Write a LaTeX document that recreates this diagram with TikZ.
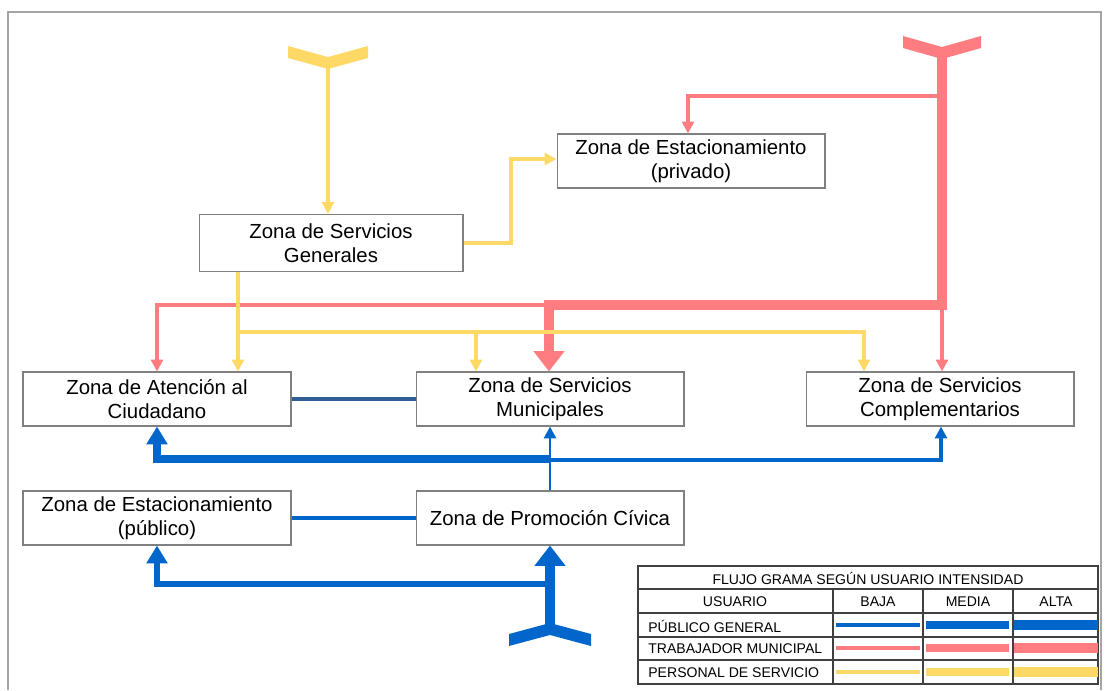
\documentclass[tikz,border=0pt]{standalone}
\usepackage{fontspec}
\setmainfont{Liberation Sans}
\usetikzlibrary{arrows.meta}
\definecolor{publico}{RGB}{0, 102, 204}
\definecolor{trabajador}{RGB}{255, 124, 128}
\definecolor{servicio}{RGB}{255, 217, 102}
\definecolor{enlace}{RGB}{47, 94, 150}
\definecolor{marco}{RGB}{165, 165, 165}

\begin{document}
\begin{tikzpicture}[x=0.02cm, y=-0.02cm,
    zona/.style={draw=gray, line width=0.6pt, fill=white, minimum width=5.36cm,
                 minimum height=1.08cm, inner sep=0pt, align=center,
                 font=\fontsize{11.6}{13.6}\selectfont},
    leyenda/.style={inner sep=0pt, font=\fontsize{8}{9}\selectfont},
    flechaS/.style={-{Triangle[length=6.8pt, width=6.8pt]}},
    flechaM/.style={-{Triangle[length=10.2pt, width=11.6pt]}},
    flechaL/.style={-{Triangle[length=11.6pt, width=17pt]}}]
    \useasboundingbox (0,0) rectangle (1106,690);
    % Frame
    \draw[marco, line width=0.9pt] (8,690) -- (8,12) -- (1101,12) -- (1101,690);

    % Zones
    \node[zona]                                        (pri) at (691,161) {Zona de Estacionamiento\\(privado)};
    \node[zona, minimum width=5.28cm, minimum height=1.14cm] (gen) at (331,243) {Zona de Servicios\\Generales};
    \node[zona]                                        (ate) at (157,399) {Zona de Atención al\\Ciudadano};
    \node[zona]                                        (mun) at (550,399) {Zona de Servicios\\Municipales};
    \node[zona]                                        (com) at (940,399) {Zona de Servicios\\Complementarios};
    \node[zona]                                        (est) at (157,518) {Zona de Estacionamiento\\(público)};
    \node[zona]                                        (pro) at (550,518) {Zona de Promoción Cívica};

    % Entrances
    \coordinate (inS) at (328,64);
    \coordinate (inT) at (942,54);
    \coordinate (inP) at (550,630);
    \fill[servicio]   (288,46) -- (328,57) -- (368,46) -- (368,58) -- (328,69) -- (288,58) -- cycle;
    \fill[trabajador] (903,36) -- (942,47) -- (981,36) -- (981,48) -- (942,59) -- (903,48) -- cycle;
    \fill[publico]    (509,634) -- (550,623) -- (591,634) -- (591,646) -- (550,635) -- (509,646) -- cycle;

    % Trabajador municipal
    \coordinate (tJ) at (549,305);
    \coordinate (tA) at (157,304);
    \coordinate (tP) at (688,96);
    \draw[trabajador, line width=1.9pt, flechaS] (tP -| inT) -- (tP) -- (tP |- pri.north);
    \draw[trabajador, line width=1.9pt, flechaS] (tJ) -- (tJ -| tA) -- (tA |- ate.north);
    \draw[trabajador, line width=1.9pt, flechaS] (inT |- tJ) -- (inT |- com.north);
    \draw[trabajador, line width=5.7pt, flechaL] (inT) -- (inT |- tJ) -- (tJ) -- (tJ |- mun.north);

    % Personal de servicio
    \coordinate (yP) at (511,159);
    \coordinate (yA) at (238,332);
    \coordinate (yM) at (476,332);
    \coordinate (yC) at (864,332);
    \draw[servicio, line width=2.2pt, flechaS] (inS) -- (inS |- gen.north);
    \draw[servicio, line width=2.6pt, flechaS] (gen.east) -| (yP) -- (yP -| pri.west);
    \draw[servicio, line width=1.9pt, flechaS] (yA |- gen.south) -- (yA |- ate.north);
    \draw[servicio, line width=1.9pt, flechaS] (yA) -- (yC) -- (yC |- com.north);
    \draw[servicio, line width=1.9pt, flechaS] (yM) -- (yM |- mun.north);

    % Publico general
    \coordinate (bE) at (157,584);
    \coordinate (bA) at (157,459);
    \coordinate (bC) at (941,460);
    \draw[publico, line width=3.4pt, flechaM] (bE -| inP) -- (bE) -- (bE |- est.south);
    \draw[publico, line width=6.2pt, flechaL] (inP) -- (pro.south);
    \draw[publico, line width=4.5pt, flechaM] (pro.north |- bA) -- (bA) -- (bA |- ate.south);
    \draw[publico, line width=2.3pt, flechaS] (pro.north |- bC) -- (bC) -- (bC |- com.south);
    \draw[publico, line width=1.7pt, flechaS] (pro.north) -- (mun.south);
    \draw[publico, line width=1.9pt] (est.east) -- (pro.west);
    \draw[enlace,  line width=1.9pt] (ate.east) -- (mun.west);

    % Legend
    \draw[black!75, line width=0.6pt] (638,566) rectangle (1098,684);
    \foreach \y in {589,613,637,660}
        \draw[black!75, line width=0.6pt] (638,\y) -- (1098,\y);
    \foreach \x in {833,923,1013}
        \draw[black!75, line width=0.6pt] (\x,589) -- (\x,684);
    \node[leyenda] (titulo) at (868,578) {FLUJO GRAMA SEGÚN USUARIO INTENSIDAD};
    \node[leyenda] (usuario) at (735,602) {USUARIO};
    \node[leyenda] (baja)  at (878,602) {BAJA};
    \node[leyenda] (media) at (968,602) {MEDIA};
    \node[leyenda] (alta)  at (1056,602) {ALTA};
    \node[leyenda, anchor=west] (pub) at (648,626) {PÚBLICO GENERAL};
    \node[leyenda, anchor=west] (tra) at (648,649) {TRABAJADOR MUNICIPAL};
    \node[leyenda, anchor=west] (per) at (648,673) {PERSONAL DE SERVICIO};
    \foreach \y/\c in {625/publico, 648/trabajador, 672/servicio} {
        \draw[\c, line width=2.3pt] (836,\y) -- (920,\y);
        \draw[\c, line width=4pt]   (926,\y) -- (1009,\y);
        \draw[\c, line width=5.7pt] (1014,\y) -- (1098,\y);
    }
\end{tikzpicture}
\end{document}
